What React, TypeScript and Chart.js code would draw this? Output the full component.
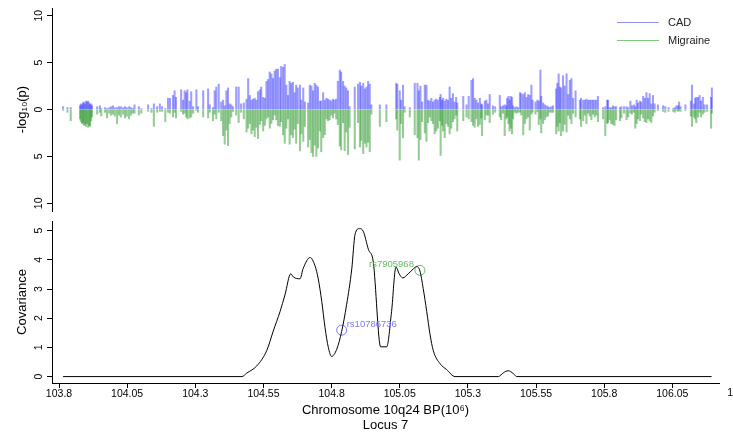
import React, { useEffect, useRef } from "react";
import { Chart, registerables } from "chart.js";

Chart.register(...registerables);

const FONT = '"Liberation Sans", Arial, Helvetica, sans-serif';
const X_MIN = 103.7743;
const X_MAX = 106.2212;

// ---- Top panel: SNP positions (Mb) and -log10(p) for each trait ----
const snpPositions = [
  // 103.8 - 104.2
  103.815, 103.831, 103.843, 103.877, 103.88, 103.884, 103.888, 103.891, 103.895, 103.899,
  103.903, 103.907, 103.911, 103.914, 103.918, 103.921, 103.94, 103.95, 103.955, 103.969,
  103.976, 103.984, 103.991, 103.998, 104.005, 104.013, 104.02, 104.027, 104.035, 104.042,
  104.049, 104.057, 104.064, 104.071, 104.077, 104.093, 104.102, 104.127, 104.139, 104.148,
  104.16, 104.17, 104.178, 104.19,
  // 104.2 - 104.6
  104.2, 104.207, 104.218, 104.224, 104.229, 104.248, 104.255, 104.261, 104.267, 104.271,
  104.279, 104.285, 104.292, 104.304, 104.31, 104.329, 104.347, 104.353, 104.365, 104.371,
  104.377, 104.386, 104.395, 104.402, 104.408, 104.414, 104.42, 104.426, 104.432, 104.438,
  104.45, 104.459, 104.468, 104.478, 104.488, 104.494, 104.5, 104.506, 104.512, 104.518,
  104.524, 104.53, 104.537, 104.542, 104.549, 104.555, 104.561, 104.567, 104.573, 104.579,
  104.585, 104.591, 104.597,
  // 104.6 - 105.0
  104.603, 104.61, 104.615, 104.622, 104.628, 104.634, 104.64, 104.646, 104.652, 104.658,
  104.664, 104.67, 104.676, 104.684, 104.689, 104.696, 104.702, 104.714, 104.72, 104.726,
  104.732, 104.738, 104.744, 104.75, 104.757, 104.762, 104.769, 104.775, 104.781, 104.787,
  104.793, 104.799, 104.805, 104.811, 104.817, 104.823, 104.83, 104.835, 104.842, 104.848,
  104.854, 104.86, 104.866, 104.885, 104.897, 104.904, 104.909, 104.916, 104.922, 104.928,
  104.934, 104.94, 104.946, 104.977, 105.001,
  // 105.0 - 105.4
  105.037, 105.041, 105.05, 105.055, 105.062, 105.068, 105.087, 105.105, 105.115, 105.12,
  105.126, 105.132, 105.142, 105.148, 105.154, 105.16, 105.166, 105.172, 105.178, 105.184,
  105.19, 105.197, 105.2, 105.205, 105.209, 105.215, 105.221, 105.227, 105.233, 105.239,
  105.245, 105.251, 105.257, 105.261, 105.283, 105.295, 105.303, 105.313, 105.319, 105.325,
  105.331, 105.337, 105.344, 105.349, 105.352, 105.362, 105.368, 105.374, 105.38, 105.392,
  105.4,
  // 105.4 - 105.8
  105.417, 105.422, 105.429, 105.435, 105.441, 105.444, 105.449, 105.453, 105.457, 105.462,
  105.466, 105.472, 105.478, 105.484, 105.491, 105.496, 105.503, 105.509, 105.515, 105.521,
  105.527, 105.533, 105.537, 105.548, 105.555, 105.56, 105.566, 105.569, 105.576, 105.582,
  105.588, 105.594, 105.6, 105.606, 105.612, 105.624, 105.628, 105.633, 105.637, 105.642,
  105.649, 105.655, 105.662, 105.668, 105.674, 105.68, 105.686, 105.695, 105.711, 105.715,
  105.723, 105.729, 105.735, 105.741, 105.747, 105.753, 105.759, 105.765, 105.771, 105.777,
  105.796, 105.804, 105.811,
  // 105.8 - 106.2
  105.814, 105.82, 105.826, 105.832, 105.838, 105.844, 105.858, 105.863, 105.873, 105.882,
  105.888, 105.896, 105.902, 105.909, 105.914, 105.919, 105.924, 105.931, 105.936, 105.943,
  105.949, 105.955, 105.961, 105.967, 105.973, 105.979, 105.985, 105.997, 106.016, 106.024,
  106.036, 106.053, 106.059, 106.065, 106.071, 106.075, 106.08, 106.098, 106.118, 106.122,
  106.129, 106.134, 106.138, 106.144, 106.15, 106.155, 106.162, 106.168, 106.177, 106.192,
  106.195,
];

const cadLogP = [
  0.3, 0.2, 0.2, 0.4, 0.6, 0.5, 0.7, 0.8, 0.6, 0.9,
  0.8, 0.9, 0.7, 0.5, 0.6, 0.4, 0.3, 0.4, 0.1, 0.2,
  0.1, 0.2, 0.3, 0.4, 0.2, 0.2, 0.3, 0.3, 0.2, 0.3,
  0.2, 0.3, 0.2, 0.1, 0.5, 0.3, 0.1, 0.5, 0.1, 0.6,
  0.3, 0.6, 0.3, 0.1,
  1.2, 1.2, 1.5, 2.0, 1.3, 2.1, 1.0, 2.0, 1.8, 2.1,
  0.9, 1.9, 0.3, 2.1, 0.3, 2.0, 2.2, 0.5, 0.2, 2.0,
  2.4, 2.7, 0.8, 1.0, 0.4, 2.0, 2.3, 0.6, 0.5, 0.3,
  2.4, 2.4, 0.6, 0.7, 1.1, 3.3, 1.5, 1.0, 1.1, 1.2,
  1.0, 1.9, 2.1, 2.4, 1.3, 1.2, 3.0, 3.2, 4.0, 3.8,
  3.3, 4.1, 4.3,
  4.3, 3.4, 4.6, 4.5, 4.8, 2.6, 1.5, 3.0, 2.8, 2.9,
  1.8, 2.6, 2.3, 2.6, 1.0, 2.3, 0.8, 0.7, 2.6, 2.5,
  2.0, 2.8, 2.6, 2.4, 0.9, 0.9, 1.8, 1.0, 1.2, 1.1,
  1.0, 0.9, 1.1, 1.0, 1.1, 3.0, 4.2, 4.0, 3.0, 2.5,
  2.3, 2.0, 0.3, 2.4, 2.7, 2.9, 2.5, 2.8, 2.2, 2.4,
  3.0, 2.7, 0.5, 0.5, 0.5,
  2.8, 2.7, 2.0, 1.0, 2.6, 0.3, 0.2, 2.8, 2.8, 2.0,
  2.5, 0.8, 2.6, 2.6, 1.0, 0.9, 1.2, 0.8, 1.0, 1.1,
  1.0, 1.3, 1.6, 1.0, 1.2, 0.9, 1.1, 1.0, 2.4, 1.2,
  1.7, 0.8, 1.3, 0.7, 1.4, 0.5, 1.4, 3.1, 3.3, 1.2,
  1.0, 0.7, 1.2, 0.6, 0.5, 0.9, 1.0, 0.6, 1.6, 0.4,
  0.3,
  1.5, 0.3, 0.4, 0.5, 0.4, 1.2, 1.4, 1.0, 1.4, 1.3,
  0.4, 0.2, 0.3, 0.2, 1.8, 1.7, 1.6, 1.8, 1.3, 1.6,
  1.5, 2.6, 1.0, 0.8, 1.0, 0.9, 4.2, 1.4, 0.7, 0.5,
  0.4, 0.3, 0.2, 0.3, 0.4, 2.2, 2.8, 3.8, 2.4, 2.3,
  3.6, 2.5, 3.8, 1.6, 3.1, 3.3, 1.2, 2.0, 1.0, 1.2,
  1.0, 1.0, 1.1, 1.0, 1.0, 1.0, 1.0, 1.0, 1.0, 1.4,
  0.2, 0.3, 1.0,
  1.0, 0.2, 0.2, 0.4, 0.3, 0.3, 0.2, 0.3, 0.3, 0.3,
  0.2, 0.9, 0.4, 0.5, 0.3, 1.0, 0.7, 0.9, 0.8, 1.4,
  1.2, 1.8, 1.2, 1.7, 0.6, 1.5, 0.6, 0.5, 0.4, 0.3,
  0.2, 0.1, 0.2, 0.4, 0.4, 0.8, 0.3, 0.5, 0.9, 2.6,
  0.6, 1.2, 1.3, 1.3, 1.5, 0.9, 1.3, 0.5, 0.5, 1.3,
  2.3,
];

const migraineLogP = [
  0.1, 0.3, 1.2, 1.0, 1.3, 1.5, 1.4, 1.7, 1.6, 1.8,
  1.5, 1.9, 1.7, 1.8, 1.2, 0.8, 0.5, 0.3, 0.7, 0.3,
  0.9, 0.4, 0.6, 0.5, 0.7, 1.5, 0.6, 0.8, 0.5, 0.9,
  0.7, 1.0, 0.6, 0.4, 0.4, 0.6, 0.4, 0.2, 0.3, 1.8,
  0.3, 0.2, 0.2, 1.3,
  0.3, 0.4, 0.8, 0.3, 0.9, 0.2, 0.5, 0.4, 0.8, 1.0,
  0.9, 0.8, 0.4, 0.1, 0.3, 0.8, 0.9, 0.3, 1.2, 0.5,
  1.0, 0.3, 1.2, 2.8, 3.7, 2.2, 3.85, 1.5, 0.8, 0.2,
  0.6, 1.4, 0.3, 1.0, 2.4, 2.0, 1.5, 2.6, 2.2, 2.9,
  1.9, 3.1, 1.6, 1.2, 2.3, 1.7, 1.0, 0.8, 2.0, 1.5,
  1.1, 0.6, 1.1,
  1.7, 1.8, 1.3, 2.7, 3.6, 2.0, 1.0, 3.7, 2.7, 3.0,
  2.1, 3.6, 1.5, 4.4, 2.6, 3.4, 1.8, 4.0, 3.2, 4.6,
  5.0, 3.8, 5.0, 4.1, 2.3, 4.5, 3.0, 2.7, 1.0, 1.2,
  1.1, 0.6, 0.9, 0.4, 1.0, 1.6, 3.9, 4.3, 1.4, 4.4,
  2.4, 4.8, 1.9, 4.2, 1.4, 4.0, 3.3, 4.7, 3.6, 4.0,
  3.5, 4.5, 0.5, 1.8, 1.3,
  1.0, 2.2, 5.4, 1.5, 3.0, 0.3, 0.8, 2.7, 3.0, 5.4,
  3.2, 1.3, 2.5, 3.4, 1.4, 0.8, 1.2, 1.5, 2.6, 2.3,
  2.0, 1.2, 4.9, 1.7, 2.3, 3.0, 1.5, 1.8, 2.6, 2.0,
  1.3, 1.0, 0.6, 2.3, 1.2, 0.8, 1.0, 1.3, 1.7, 1.9,
  1.0, 1.8, 1.6, 0.9, 2.8, 1.1, 0.6, 0.6, 1.4, 0.5,
  0.3,
  0.8, 1.1, 0.4, 2.8, 1.0, 0.8, 1.5, 2.3, 2.0, 2.6,
  1.0, 0.3, 0.4, 0.3, 0.3, 0.6, 2.7, 1.5, 1.0, 0.8,
  2.2, 0.5, 0.3, 0.5, 0.2, 1.6, 1.0, 2.5, 1.5, 1.1,
  0.8, 0.7, 0.3, 0.3, 0.3, 2.6, 1.8, 2.3, 1.4, 2.8,
  2.3, 1.6, 2.4, 0.6, 1.0, 1.5, 0.4, 0.8, 1.0, 1.8,
  1.2, 0.6, 1.5, 0.4, 0.7, 1.1, 0.5, 0.8, 0.6, 1.3,
  1.0, 2.8, 1.5,
  1.4, 1.1, 1.5, 1.6, 1.7, 1.1, 1.2, 0.9, 0.4, 1.1,
  0.8, 0.4, 0.5, 0.3, 2.0, 1.5, 1.0, 1.2, 0.5, 0.9,
  1.3, 1.4, 1.0, 1.2, 1.4, 0.7, 0.3, 0.1, 0.2, 0.3,
  0.2, 0.2, 0.3, 0.1, 0.2, 0.1, 0.2, 0.1, 0.7, 1.8,
  0.8, 1.0, 1.4, 0.8, 0.3, 0.8, 0.5, 0.3, 0.2, 2.0,
  0.4,
];

// ---- Bottom panel: covariance curve ----
const covPositions = [
  103.815, 104.471, 104.489, 104.525, 104.562, 104.586, 104.611, 104.629, 104.65, 104.66,
  104.684, 104.696, 104.721, 104.739, 104.751, 104.764, 104.776, 104.788, 104.8, 104.819,
  104.837, 104.855, 104.874, 104.886, 104.902, 104.916, 104.935, 104.953, 104.98, 105.002,
  105.02, 105.036, 105.048, 105.061, 105.081, 105.1, 105.112, 105.124, 105.136, 105.149,
  105.161, 105.173, 105.198, 105.222, 105.253, 105.412, 105.43, 105.448, 105.467, 105.479,
  106.194,
];
const covValues = [
  0, 0, 0.12, 0.36, 0.89, 1.56, 2.23, 2.8, 3.52, 3.41,
  3.35, 3.71, 4.08, 3.8, 3.35, 2.57, 1.67, 1.0, 0.69, 0.94,
  1.55, 2.46, 3.69, 4.87, 5.07, 4.98, 4.36, 3.92, 1.02, 1.02,
  2.23, 3.75, 3.52, 3.38, 3.52, 3.69, 3.77, 3.62, 3.02, 2.23,
  1.45, 0.89, 0.44, 0.24, 0, 0, 0.13, 0.2, 0.1, 0,
  0,
];

const markerLabels = ["rs10786736", "rs7905968"];
const markerPositions = [104.837, 105.124];
const markerCov = [1.59, 3.64];

// ---- Ticks ----
const xTickValues = [103.8, 104.05, 104.3, 104.55, 104.8, 105.05, 105.3, 105.55, 105.8, 106.05, 106.3];
const xTickLabels = ["103.8", "104.05", "104.3", "104.55", "104.8", "105.05", "105.3", "105.55", "105.8", "106.05", "106.3"];
const topYTicks = [10, 5, 0, -5, -10];
const bottomYTicks = [0, 1, 2, 3, 4, 5];

const legendLabels = ["CAD", "Migraine"];

const CAD_COLOR = "rgba(40,40,255,0.45)";
const MIG_COLOR = "rgba(20,140,20,0.45)";
const CAD_LINE = "#9090f0";
const MIG_LINE = "#80c880";
const MARKER_COLORS = ["#7878ff", "#66bb66"];
const TICK_FONT_SIZE = 10.5;

function drawRotatedYTicks(chart: any, format: (v: number) => string) {
  const ctx = chart.ctx;
  const scale = chart.scales.y;
  ctx.save();
  ctx.fillStyle = "#000";
  ctx.font = `${TICK_FONT_SIZE}px ${FONT}`;
  ctx.textAlign = "center";
  ctx.textBaseline = "middle";
  for (const t of scale.ticks) {
    const py = scale.getPixelForValue(t.value);
    ctx.save();
    ctx.translate(scale.right - 13, py);
    ctx.rotate(-Math.PI / 2);
    ctx.fillText(format(t.value), 0, 0);
    ctx.restore();
  }
  ctx.restore();
}

const topPlugin = {
  id: "topExtras",
  afterDraw(chart: any) {
    drawRotatedYTicks(chart, (v) => String(Math.abs(v)));
    const ctx = chart.ctx;
    ctx.save();
    ctx.font = `11px ${FONT}`;
    ctx.textAlign = "left";
    ctx.textBaseline = "middle";
    const colors = [CAD_LINE, MIG_LINE];
    legendLabels.forEach((lab, i) => {
      const y = 22.5 + i * 18;
      ctx.strokeStyle = colors[i];
      ctx.lineWidth = 1;
      ctx.beginPath();
      ctx.moveTo(617, y);
      ctx.lineTo(659, y);
      ctx.stroke();
      ctx.fillStyle = "#222";
      ctx.fillText(lab, 668, y + 0.5);
    });
    ctx.restore();
  },
};

const bottomPlugin = {
  id: "bottomExtras",
  afterDraw(chart: any) {
    drawRotatedYTicks(chart, (v) => String(v));
    const ctx = chart.ctx;
    const xs = chart.scales.x;
    const ys = chart.scales.y;
    ctx.save();
    // tick labels lying beyond the axis range (partly visible at the right edge)
    ctx.font = `${TICK_FONT_SIZE}px ${FONT}`;
    ctx.fillStyle = "#000";
    ctx.textAlign = "center";
    ctx.textBaseline = "top";
    xTickValues.forEach((v, i) => {
      if (v > X_MAX || v < X_MIN) {
        ctx.fillText(xTickLabels[i], xs.getPixelForValue(v), xs.top + 5);
      }
    });
    ctx.font = `9.5px ${FONT}`;
    ctx.textBaseline = "middle";
    markerLabels.forEach((lab, i) => {
      const px = xs.getPixelForValue(markerPositions[i]);
      const py = ys.getPixelForValue(markerCov[i]);
      ctx.fillStyle = MARKER_COLORS[i];
      if (i === 0) {
        ctx.textAlign = "left";
        ctx.fillText(lab, px + 5, py - 6);
      } else {
        ctx.textAlign = "right";
        ctx.fillText(lab, px - 6, py - 6);
      }
    });
    ctx.restore();
  },
};

function topConfig(): any {
  return {
    type: "bar",
    data: {
      datasets: [
        {
          label: "CAD",
          data: snpPositions.map((x, i) => ({ x, y: cadLogP[i] })),
          backgroundColor: CAD_COLOR,
          borderWidth: 0,
          barThickness: 1.4,
          grouped: false,
        },
        {
          label: "Migraine",
          data: snpPositions.map((x, i) => ({ x, y: -migraineLogP[i] })),
          backgroundColor: MIG_COLOR,
          borderWidth: 0,
          barThickness: 1.4,
          grouped: false,
        },
      ],
    },
    options: {
      animation: false,
      responsive: false,
      devicePixelRatio: 1,
      layout: { padding: { top: 8, bottom: 4, left: 0, right: 14 } },
      plugins: { legend: { display: false }, tooltip: { enabled: false } },
      scales: {
        x: { type: "linear", min: X_MIN, max: X_MAX, display: false, offset: false, grid: { offset: false } },
        y: {
          type: "linear",
          min: -10.82,
          max: 10.82,
          afterBuildTicks: (s: any) => {
            s.ticks = topYTicks.map((v) => ({ value: v }));
          },
          afterFit: (s: any) => {
            s.width = 52;
          },
          ticks: { display: false },
          grid: { drawOnChartArea: false, tickLength: 5, tickColor: "#000", tickWidth: 1 },
          border: { display: true, color: "#000", width: 1 },
          title: {
            display: true,
            text: "-log₁₀(p)",
            color: "#000",
            font: { family: FONT, size: 13 },
            padding: { top: 15, bottom: 0 },
          },
        },
      },
    },
    plugins: [topPlugin],
  };
}

function bottomConfig(): any {
  return {
    type: "line",
    data: {
      datasets: [
        {
          type: "line",
          data: covPositions.map((x, i) => ({ x, y: covValues[i] })),
          borderColor: "#000",
          borderWidth: 1,
          pointRadius: 0,
          cubicInterpolationMode: "monotone",
          fill: false,
        },
        ...markerLabels.map((_, i) => ({
          type: "scatter",
          data: [{ x: markerPositions[i], y: markerCov[i] }],
          pointRadius: 5,
          pointStyle: "circle",
          backgroundColor: "rgba(0,0,0,0)",
          borderColor: MARKER_COLORS[i],
          borderWidth: 1,
          showLine: false,
        })),
      ],
    },
    options: {
      animation: false,
      responsive: false,
      devicePixelRatio: 1,
      layout: { padding: { top: 3, bottom: 0, left: 0, right: 14 } },
      plugins: { legend: { display: false }, tooltip: { enabled: false } },
      scales: {
        x: {
          type: "linear",
          min: X_MIN,
          max: X_MAX,
          offset: false,
          afterBuildTicks: (s: any) => {
            s.ticks = xTickValues.filter((v) => v >= X_MIN && v <= X_MAX).map((v) => ({ value: v }));
          },
          afterFit: (s: any) => {
            s.height = 51;
            s.paddingLeft = 0;
            s.paddingRight = 0;
          },
          ticks: {
            autoSkip: false,
            minRotation: 0,
            maxRotation: 0,
            padding: 0,
            color: "#000",
            font: { family: FONT, size: TICK_FONT_SIZE },
            callback: (v: number) => {
              const idx = xTickValues.indexOf(v);
              return idx >= 0 ? xTickLabels[idx] : "";
            },
          },
          grid: { drawOnChartArea: false, tickLength: 5, tickColor: "#000", tickWidth: 1, offset: false },
          border: { display: true, color: "#000", width: 1 },
          title: {
            display: true,
            text: ["Chromosome 10q24 BP(10⁶)", "Locus 7"],
            color: "#000",
            font: { family: FONT, size: 13, lineHeight: 1.15 },
            padding: { top: 0, bottom: 1.5 },
          },
        },
        y: {
          type: "linear",
          min: -0.22,
          max: 5.33,
          afterBuildTicks: (s: any) => {
            s.ticks = bottomYTicks.map((v) => ({ value: v }));
          },
          afterFit: (s: any) => {
            s.width = 52;
          },
          ticks: { display: false },
          grid: { drawOnChartArea: false, tickLength: 5, tickColor: "#000", tickWidth: 1 },
          border: { display: true, color: "#000", width: 1 },
          title: {
            display: true,
            text: "Covariance",
            color: "#000",
            font: { family: FONT, size: 13 },
            padding: { top: 15, bottom: 0 },
          },
        },
      },
    },
    plugins: [bottomPlugin],
  };
}

export default function App() {
  const topRef = useRef<HTMLCanvasElement>(null);
  const bottomRef = useRef<HTMLCanvasElement>(null);

  useEffect(() => {
    const top = new Chart(topRef.current as HTMLCanvasElement, topConfig());
    const bottom = new Chart(bottomRef.current as HTMLCanvasElement, bottomConfig());
    return () => {
      top.destroy();
      bottom.destroy();
    };
  }, []);

  return (
    <div style={{ position: "fixed", left: 0, top: 0, width: 733, height: 434, background: "#fff", overflow: "hidden" }}>
      <canvas
        ref={topRef}
        width={733}
        height={215}
        style={{ position: "absolute", left: 0, top: 0, width: 733, height: 215 }}
      />
      <canvas
        ref={bottomRef}
        width={733}
        height={219}
        style={{ position: "absolute", left: 0, top: 215, width: 733, height: 219 }}
      />
    </div>
  );
}
